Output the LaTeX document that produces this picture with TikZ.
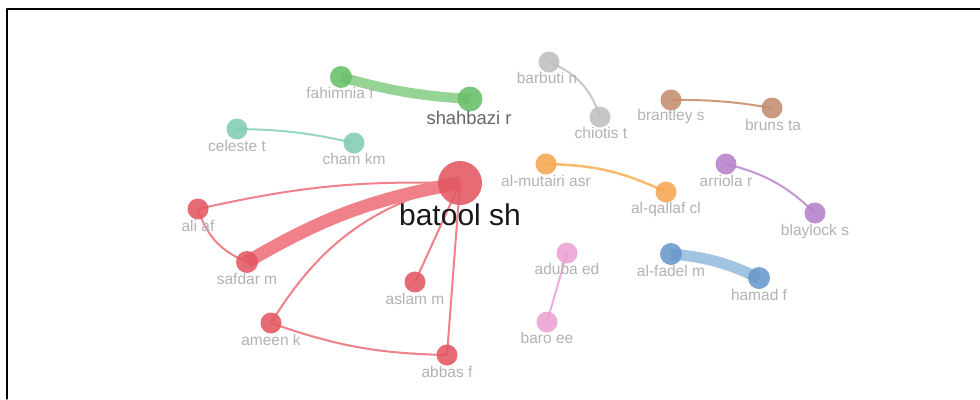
\documentclass[tikz,border=0pt]{standalone}
\usepackage{fontspec}
\setmainfont{Liberation Sans}
\usetikzlibrary{backgrounds}
\definecolor{redN}{RGB}{226,86,98}
\definecolor{redE}{RGB}{240,128,138}
\definecolor{greenN}{RGB}{104,190,104}
\definecolor{greenE}{RGB}{150,212,150}
\definecolor{tealN}{RGB}{128,205,178}
\definecolor{tealE}{RGB}{150,214,194}
\definecolor{grayN}{RGB}{190,190,190}
\definecolor{grayE}{RGB}{200,200,200}
\definecolor{brownN}{RGB}{196,140,110}
\definecolor{brownE}{RGB}{206,152,124}
\definecolor{orangeN}{RGB}{246,166,82}
\definecolor{orangeE}{RGB}{250,186,112}
\definecolor{purpleN}{RGB}{180,130,200}
\definecolor{purpleE}{RGB}{192,150,212}
\definecolor{pinkN}{RGB}{236,160,212}
\definecolor{pinkE}{RGB}{240,172,218}
\definecolor{blueN}{RGB}{104,152,202}
\definecolor{blueE}{RGB}{160,196,226}
\definecolor{lblgray}{RGB}{178,178,178}

\begin{document}
\begin{tikzpicture}[x=1pt,y=-1pt,line cap=round,line join=round,
    dot/.style={circle,inner sep=0pt,draw=none,fill opacity=0.88,minimum size=21},
    lbl/.style={text=lblgray,font=\fontsize{15.5}{18}\selectfont,inner sep=0pt},
    lnk/.style={line width=2pt}]
                \useasboundingbox (0,0) rectangle (980,399);
                \draw [line width=1.3pt] (980,9)-- (7,9)-- (7,399);
                % red cluster
                \node [dot,fill=redN,minimum size=44] (batool) at (460,183) {};
                \node [dot,fill=redN] (ali) at (198,209) {};
                \node [dot,fill=redN,minimum size=22] (safdar) at (247,262) {};
                \node [dot,fill=redN] (aslam) at (415,282) {};
                \node [dot,fill=redN] (ameen) at (271,323) {};
                \node [dot,fill=redN] (abbas) at (447,355) {};
                % green, teal, gray, brown
                \node [dot,fill=greenN,minimum size=22] (fahimnia) at (341,77) {};
                \node [dot,fill=greenN,minimum size=25] (shahbazi) at (470,99) {};
                \node [dot,fill=tealN] (celeste) at (237,129) {};
                \node [dot,fill=tealN] (cham) at (354,143) {};
                \node [dot,fill=grayN] (barbuti) at (549,62) {};
                \node [dot,fill=grayN] (chiotis) at (600,117) {};
                \node [dot,fill=brownN] (brantley) at (671,100) {};
                \node [dot,fill=brownN] (bruns) at (772,108) {};
                % orange, purple, pink, blue
                \node [dot,fill=orangeN] (mutairi) at (546,164) {};
                \node [dot,fill=orangeN] (qallaf) at (666,192) {};
                \node [dot,fill=purpleN] (arriola) at (726,164) {};
                \node [dot,fill=purpleN] (blaylock) at (815,213) {};
                \node [dot,fill=pinkN] (aduba) at (567,253) {};
                \node [dot,fill=pinkN] (baro) at (547,322) {};
                \node [dot,fill=blueN,minimum size=22] (fadel) at (671,254) {};
                \node [dot,fill=blueN,minimum size=22] (hamad) at (759,278) {};
                \begin{pgfonlayer}{background}
                    \draw [lnk,redE,line width=13pt] (batool.center) to[bend right=10] (safdar.center);
                    \draw [lnk,redE] (batool.center) to[bend right=7] (ali.center);
                    \draw [lnk,redE] (ali.center) to[bend right=25] (safdar.center);
                    \draw [lnk,redE] (batool.center) to[bend right=22] (ameen.center);
                    \draw [lnk,redE] (batool.center) -- (aslam.center);
                    \draw [lnk,redE] (batool.center) -- (abbas.center);
                    \draw [lnk,redE] (ameen.center) to[bend right=9] (abbas.center);
                    \draw [lnk,greenE,line width=10pt] (fahimnia.center) to[bend right=6] (shahbazi.center);
                    \draw [lnk,tealE] (celeste.center) to[bend left=6] (cham.center);
                    \draw [lnk,grayE] (barbuti.center) to[bend left=25] (chiotis.center);
                    \draw [lnk,brownE] (brantley.center) to[bend left=5] (bruns.center);
                    \draw [lnk,orangeE,line width=2.5pt] (mutairi.center) to[bend left=12] (qallaf.center);
                    \draw [lnk,purpleE] (arriola.center) to[bend left=15] (blaylock.center);
                    \draw [lnk,pinkE] (aduba.center) -- (baro.center);
                    \draw [lnk,blueE,line width=11pt] (fadel.center) to[bend left=10] (hamad.center);
                \end{pgfonlayer}
                % labels
                \node [lbl,text=black!90,font=\fontsize{30}{36}\selectfont] (batool-l) at (460,215) {batool sh};
                \node [lbl] (ali-l) at (198,226) {ali af};
                \node [lbl] (safdar-l) at (247,279) {safdar m};
                \node [lbl] (aslam-l) at (415,299) {aslam m};
                \node [lbl] (ameen-l) at (271,340) {ameen k};
                \node [lbl] (abbas-l) at (447,372) {abbas f};
                \node [lbl] (fahimnia-l) at (340,93) {fahimnia f};
                \node [lbl,text=black!60,font=\fontsize{18.4}{22}\selectfont] (shahbazi-l) at (469,118) {shahbazi r};
                \node [lbl] (celeste-l) at (237,146) {celeste t};
                \node [lbl] (cham-l) at (354,159) {cham km};
                \node [lbl] (barbuti-l) at (547,78) {barbuti n};
                \node [lbl] (chiotis-l) at (601,133) {chiotis t};
                \node [lbl] (brantley-l) at (671,116) {brantley s};
                \node [lbl] (bruns-l) at (773,125) {bruns ta};
                \node [lbl] (mutairi-l) at (546,181) {al-mutairi asr};
                \node [lbl] (qallaf-l) at (666,209) {al-qallaf cl};
                \node [lbl] (arriola-l) at (726,181) {arriola r};
                \node [lbl] (blaylock-l) at (815,231) {blaylock s};
                \node [lbl] (aduba-l) at (567,269) {aduba ed};
                \node [lbl] (baro-l) at (547,338) {baro ee};
                \node [lbl] (fadel-l) at (671,271) {al-fadel m};
                \node [lbl] (hamad-l) at (759,295) {hamad f};
\end{tikzpicture}
\end{document}
